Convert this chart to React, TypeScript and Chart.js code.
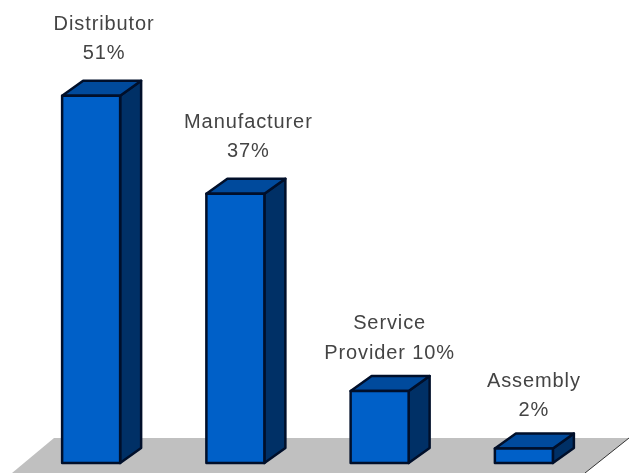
import React, { useEffect, useRef } from "react";
import { Chart, registerables } from "chart.js";

Chart.register(...registerables);

const categories = ["Distributor", "Manufacturer", "Service Provider", "Assembly"];
const labelLines = [["Distributor", "51%"], ["Manufacturer", "37%"], ["Service", "Provider 10%"], ["Assembly", "2%"]];
const shares = [51, 37.4, 10, 2];

const FRONT = "#0060c8";
const TOP = "#004a9c";
const SIDE = "#003066";
const EDGE = "#000f2a";
const FLOOR = "#c0c0c0";
const DX = 21;
const DY = 15;

const bars3d = {
  id: "bars3d",
  beforeDatasetsDraw(chart: any) {
    const { ctx, scales, chartArea } = chart;
    const base = scales.y.getPixelForValue(0);
    ctx.save();
    ctx.fillStyle = FLOOR;
    ctx.beginPath();
    ctx.moveTo(chartArea.left + 35, base - 25);
    ctx.lineTo(chart.width, base - 25);
    ctx.lineTo(chart.width - 44, base + 10);
    ctx.lineTo(chartArea.left - 7, base + 10);
    ctx.closePath();
    ctx.fill();
    ctx.strokeStyle = "#333333";
    ctx.lineWidth = 1;
    ctx.beginPath();
    ctx.moveTo(chart.width, base - 25);
    ctx.lineTo(chart.width - 44, base + 10);
    ctx.stroke();
    ctx.restore();
  },
  afterDatasetsDraw(chart: any) {
    const { ctx } = chart;
    const meta = chart.getDatasetMeta(0);
    ctx.save();
    ctx.lineWidth = 2.5;
    ctx.lineJoin = "round";
    ctx.strokeStyle = EDGE;
    meta.data.forEach((bar: any, i: number) => {
      const w = bar.width;
      const l = bar.x - w / 2;
      const r = bar.x + w / 2;
      const t = bar.y;
      const b = bar.base;
      ctx.fillStyle = SIDE;
      ctx.beginPath();
      ctx.moveTo(r, t);
      ctx.lineTo(r + DX, t - DY);
      ctx.lineTo(r + DX, b - DY);
      ctx.lineTo(r, b);
      ctx.closePath();
      ctx.fill();
      ctx.stroke();
      ctx.fillStyle = TOP;
      ctx.beginPath();
      ctx.moveTo(l, t);
      ctx.lineTo(l + DX, t - DY);
      ctx.lineTo(r + DX, t - DY);
      ctx.lineTo(r, t);
      ctx.closePath();
      ctx.fill();
      ctx.stroke();
      ctx.fillStyle = FRONT;
      ctx.beginPath();
      ctx.rect(l, t, w, b - t);
      ctx.fill();
      ctx.stroke();

      const tall = shares[i] > 20;
      const cx = bar.x + (tall ? 13 : 10);
      const y2 = t - (tall ? 42 : 38);
      ctx.fillStyle = "#444444";
      ctx.font = "20px 'Liberation Sans', Arial, sans-serif";
      (ctx as any).letterSpacing = "0.9px";
      ctx.textAlign = "center";
      ctx.textBaseline = "middle";
      ctx.fillText(labelLines[i][0], cx, y2 - 29.5);
      ctx.fillText(labelLines[i][1], cx, y2);
    });
    ctx.restore();
  },
};

export default function App() {
  const ref = useRef<HTMLCanvasElement>(null);
  useEffect(() => {
    document.body.style.margin = "0";
    document.body.style.background = "#ffffff";
    const chart = new Chart(ref.current!, {
      type: "bar",
      data: {
        labels: categories,
        datasets: [{ data: shares, backgroundColor: FRONT, barThickness: 58 }],
      },
      options: {
        animation: false,
        responsive: false,
        layout: { padding: { left: 19, right: 33, top: 0, bottom: 10 } },
        plugins: { legend: { display: false }, tooltip: { enabled: false }, title: { display: false } },
        scales: {
          x: { display: false },
          y: { display: false, min: 0, max: 64.3 },
        },
      },
      plugins: [bars3d],
    });
    return () => chart.destroy();
  }, []);
  return <canvas ref={ref} width={629} height={473} style={{ display: "block" }} />;
}
